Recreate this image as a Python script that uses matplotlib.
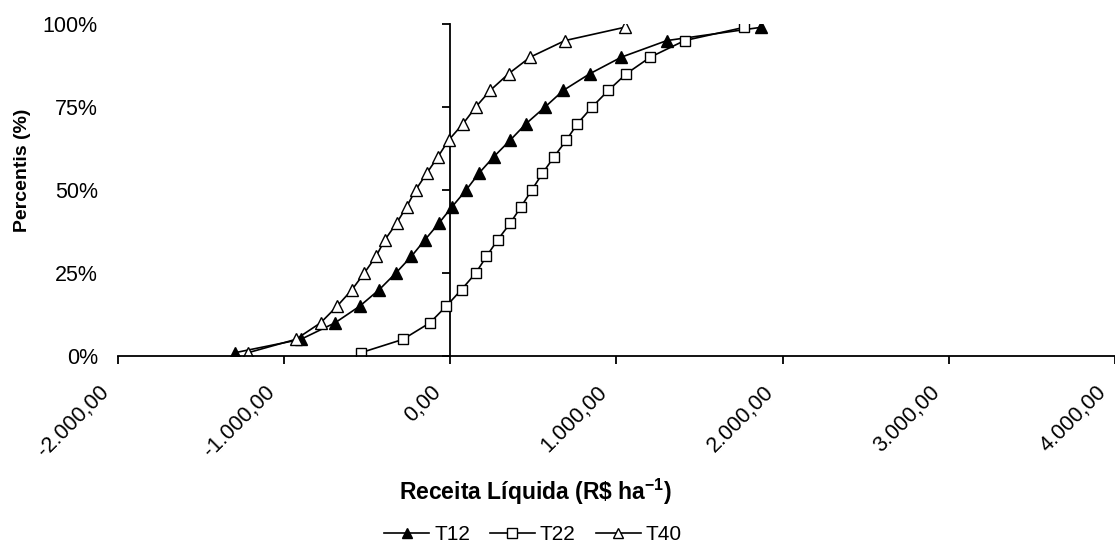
import matplotlib
matplotlib.use("Agg")
import matplotlib.pyplot as plt
from matplotlib.ticker import FuncFormatter
from matplotlib.transforms import ScaledTranslation

plt.rcParams['font.family'] = ['Liberation Sans', 'DejaVu Sans']
plt.rcParams['mathtext.fontset'] = 'custom'
plt.rcParams['mathtext.rm'] = 'Liberation Sans'
plt.rcParams['mathtext.bf'] = 'Liberation Sans:bold'

percentis = [1, 5, 10, 15, 20, 25, 30, 35, 40, 45, 50, 55, 60, 65, 70, 75, 80, 85, 90, 95, 99]

t12 = [-1295, -900, -693, -545, -427, -327, -234, -152, -68, 12, 96, 172, 262, 361, 457,
       571, 681, 840, 1030, 1304, 1872]
t22 = [-537, -285, -122, -24, 68, 154, 218, 286, 361, 427, 491, 555, 625, 699, 766,
       854, 952, 1060, 1204, 1411, 1771]
t40 = [-1216, -930, -780, -681, -591, -517, -447, -393, -323, -262, -208, -142, -74, -10, 78,
       154, 241, 351, 481, 691, 1050]

x_ticks = [-2000, -1000, 0, 1000, 2000, 3000, 4000]
y_ticks = [0, 25, 50, 75, 100]

fig = plt.figure(figsize=(11.15, 5.47), dpi=100)
ax = fig.add_axes([0.1058, 0.3492, 0.894, 0.607])

common = dict(color='black', lw=1.2, mec='black', mew=1.0)
ax.plot(t12, percentis, marker='^', ms=8.5, mfc='black', label='T12', **common)
ax.plot(t22, percentis, marker='s', ms=7.5, mfc='white', label='T22', **common)
ax.plot(t40, percentis, marker='^', ms=8.5, mfc='white', label='T40', **common)

ax.set_xlim(-2000, 4000)
ax.set_ylim(0, 100)
ax.set_xticks(x_ticks)
ax.set_yticks(y_ticks)

def br_fmt(v, pos):
    s = f"{abs(v):,.2f}".replace(',', 'X').replace('.', ',').replace('X', '.')
    return ('-' if v < 0 else '') + s

ax.xaxis.set_major_formatter(FuncFormatter(br_fmt))
ax.yaxis.set_major_formatter(FuncFormatter(lambda v, p: f"{int(v)}%"))

for s in ['top', 'right', 'left']:
    ax.spines[s].set_visible(False)
ax.spines['bottom'].set_linewidth(1.3)
ax.tick_params(axis='x', direction='out', length=6, width=1.3, labelsize=15.5, pad=18)
ax.tick_params(axis='y', length=0, labelsize=15.5, pad=14.4)
shift = ScaledTranslation(-0.12, 0, fig.dpi_scale_trans)
for lab in ax.get_xticklabels():
    lab.set_rotation(45)
    lab.set_ha('right')
    lab.set_va('center')
    lab.set_rotation_mode('anchor')
    lab.set_transform(lab.get_transform() + shift)

# y-axis line crossing at x = 0
sec = ax.secondary_yaxis(0, transform=ax.transData)
sec.spines['left'].set_linewidth(1.3)
sec.set_yticks(y_ticks)
sec.tick_params(axis='y', direction='out', length=6, width=1.3, labelleft=False)

fig.text(0.0206, 0.689, 'Percentis (%)', rotation=90, ha='center', va='center',
         fontsize=14, fontweight='bold')
fig.text(0.480, 0.1005, r'Receita Líquida (R\$ ha$^{\mathbf{-1}}$)', ha='center', va='center',
         fontsize=16.5, fontweight='bold')

leg = fig.legend(loc='center', bbox_to_anchor=(0.478, 0.022), ncol=3, frameon=False,
                 fontsize=15, handlelength=2.16, handletextpad=0.24, columnspacing=0.96,
                 markerscale=0.9, borderpad=0, borderaxespad=0)

fig.savefig('out.png', dpi=100)
